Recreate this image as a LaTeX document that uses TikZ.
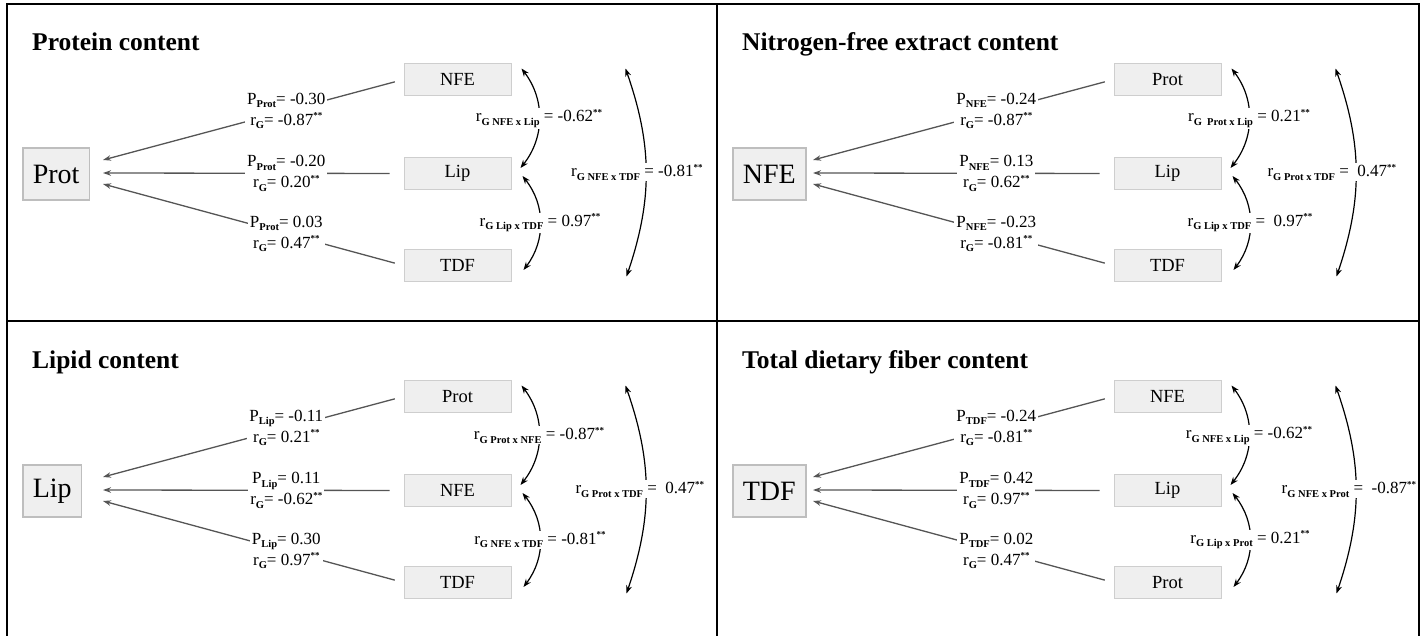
\documentclass[tikz,border=0pt]{standalone}
\usepackage{fontspec}
\setmainfont{Liberation Serif}
\usetikzlibrary{arrows.meta,calc}

\definecolor{boxfill}{HTML}{EFEFEF}
\definecolor{boxline}{HTML}{BEBEBE}
\definecolor{arrowgray}{HTML}{555555}

% bold lowered subscript and the significance stars
\newcommand{\lo}[1]{\raisebox{-3.5pt}{\fontsize{10.5}{11}\selectfont\bfseries #1}}
\newcommand{\hi}{\raisebox{6.5pt}{\fontsize{9}{9}\selectfont\bfseries **}}

\tikzset{
  frameline/.style={line width=2pt, draw=black},
  ttl/.style={anchor=base west, inner sep=0pt, font=\fontsize{25.5}{27}\selectfont\bfseries},
  bigbox/.style={draw=boxline, fill=boxfill, line width=1.6pt, anchor=west,
    minimum height=52pt, inner xsep=10pt, font=\fontsize{28}{30}\selectfont},
  smallbox/.style={draw=boxline!75, fill=boxfill, line width=1pt,
    minimum width=107pt, minimum height=32pt, font=\fontsize{18.5}{20}\selectfont},
  effect/.style={draw=arrowgray, line width=1.3pt, shorten <=9pt,
    -{Stealth[length=8pt,width=5.5pt]}},
  corr/.style={draw=black, line width=1.2pt,
    {Stealth[length=8pt,width=6pt]}-{Stealth[length=8pt,width=6pt]}},
  plbl/.style={fill=white, inner sep=2pt, align=center, font=\fontsize{17}{21}\selectfont},
  clbl/.style={fill=white, inner sep=1pt, font=\fontsize{17}{20}\selectfont},
}

% title, response box and the three predictor boxes of one panel
\newcommand{\panelframe}[5]{%
  \node[ttl] (title) at (32,51) {#1};
  \node[bigbox] (y) at (22,174) {#2};
  \node[smallbox] (x1) at (457.5,79.5) {#3};
  \node[smallbox] (x2) at (457.5,173.5) {#4};
  \node[smallbox] (x3) at (457.5,265.5) {#5};
  \coordinate (t1) at (103,160);
  \coordinate (t2) at (103,173);
  \coordinate (t3) at (103,184);
}

% direct effects and the correlations between predictors
\newcommand{\panelpaths}[7][-8]{%
  \draw[effect] (x1.west) -- node[plbl,pos=.39]{#2} (t1);
  \draw[effect,shorten <=14pt] (x2.west) -- node[plbl,pos=.39]{#3} (t2);
  \draw[effect] (x3.west) -- node[plbl,pos=.39]{#4} (t3);
  \draw[corr] ($(x1.east)+(10,-11)$) to[bend left=38] node[clbl]{#5} ($(x2.east)+(9,-5.5)$);
  \draw[corr] ($(x2.east)+(11,2.5)$) to[bend left=38] node[clbl]{#6} ($(x3.east)+(12,4.5)$);
  \draw[corr] ($(x1.east)+(114,-11)$) to[bend left=19] node[clbl,xshift=#1]{#7} ($(x3.east)+(115,11)$);
}

\begin{document}
\begin{tikzpicture}[x=1pt,y=-1pt]
\useasboundingbox (0,0) rectangle (1424,636);

% frame
\draw[frameline] (7,636) -- (7,4) -- (1419,4) -- (1419,636);
\draw[frameline] (717,4) -- (717,636);
\draw[frameline] (7,321) -- (1419,321);

% protein
\begin{scope}[name prefix=pa-]
  \panelframe{Protein content}{Prot}{NFE}{Lip}{TDF}
  \panelpaths[-9]
    {P\lo{Prot}= -0.30\\r\lo{G}= -0.87\hi}
    {P\lo{Prot}= -0.20\\r\lo{G}= 0.20\hi}
    {P\lo{Prot}= 0.03\\r\lo{G}= 0.47\hi}
    {r\lo{G NFE x Lip} = -0.62\hi}
    {r\lo{G Lip x TDF} = 0.97\hi}
    {r\lo{G NFE x TDF} = -0.81\hi}
\end{scope}

% nitrogen-free extract
\begin{scope}[shift={(710,0)},name prefix=pb-]
  \panelframe{Nitrogen-free extract content}{NFE}{Prot}{Lip}{TDF}
  \panelpaths[-24]
    {P\lo{NFE}= -0.24\\r\lo{G}= -0.87\hi}
    {P\lo{NFE}= 0.13\\r\lo{G}= 0.62\hi}
    {P\lo{NFE}= -0.23\\r\lo{G}= -0.81\hi}
    {r\lo{G~ Prot x Lip} = 0.21\hi}
    {r\lo{G Lip x TDF} =~ 0.97\hi}
    {r\lo{G Prot x TDF} =~ 0.47\hi}
\end{scope}

% lipid
\begin{scope}[shift={(0,317)},name prefix=pc-]
  \panelframe{Lipid content}{Lip}{Prot}{NFE}{TDF}
  \panelpaths[-6]
    {P\lo{Lip}= -0.11\\r\lo{G}= 0.21\hi}
    {P\lo{Lip}= 0.11\\r\lo{G}= -0.62\hi}
    {P\lo{Lip}= 0.30\\r\lo{G}= 0.97\hi}
    {r\lo{G Prot x NFE} = -0.87\hi}
    {r\lo{G NFE x TDF} = -0.81\hi}
    {r\lo{G Prot x TDF} =~ 0.47\hi}
\end{scope}

% total dietary fiber
\begin{scope}[shift={(710,317)},name prefix=pd-]
  \panelframe{Total dietary fiber content}{TDF}{NFE}{Lip}{Prot}
  \panelpaths[-7]
    {P\lo{TDF}= -0.24\\r\lo{G}= -0.81\hi}
    {P\lo{TDF}= 0.42\\r\lo{G}= 0.97\hi}
    {P\lo{TDF}= 0.02\\r\lo{G}= 0.47\hi}
    {r\lo{G NFE x Lip} = -0.62\hi}
    {r\lo{G Lip x Prot} = 0.21\hi}
    {r\lo{G NFE x Prot} =~ -0.87\hi}
\end{scope}
\end{tikzpicture}
\end{document}
